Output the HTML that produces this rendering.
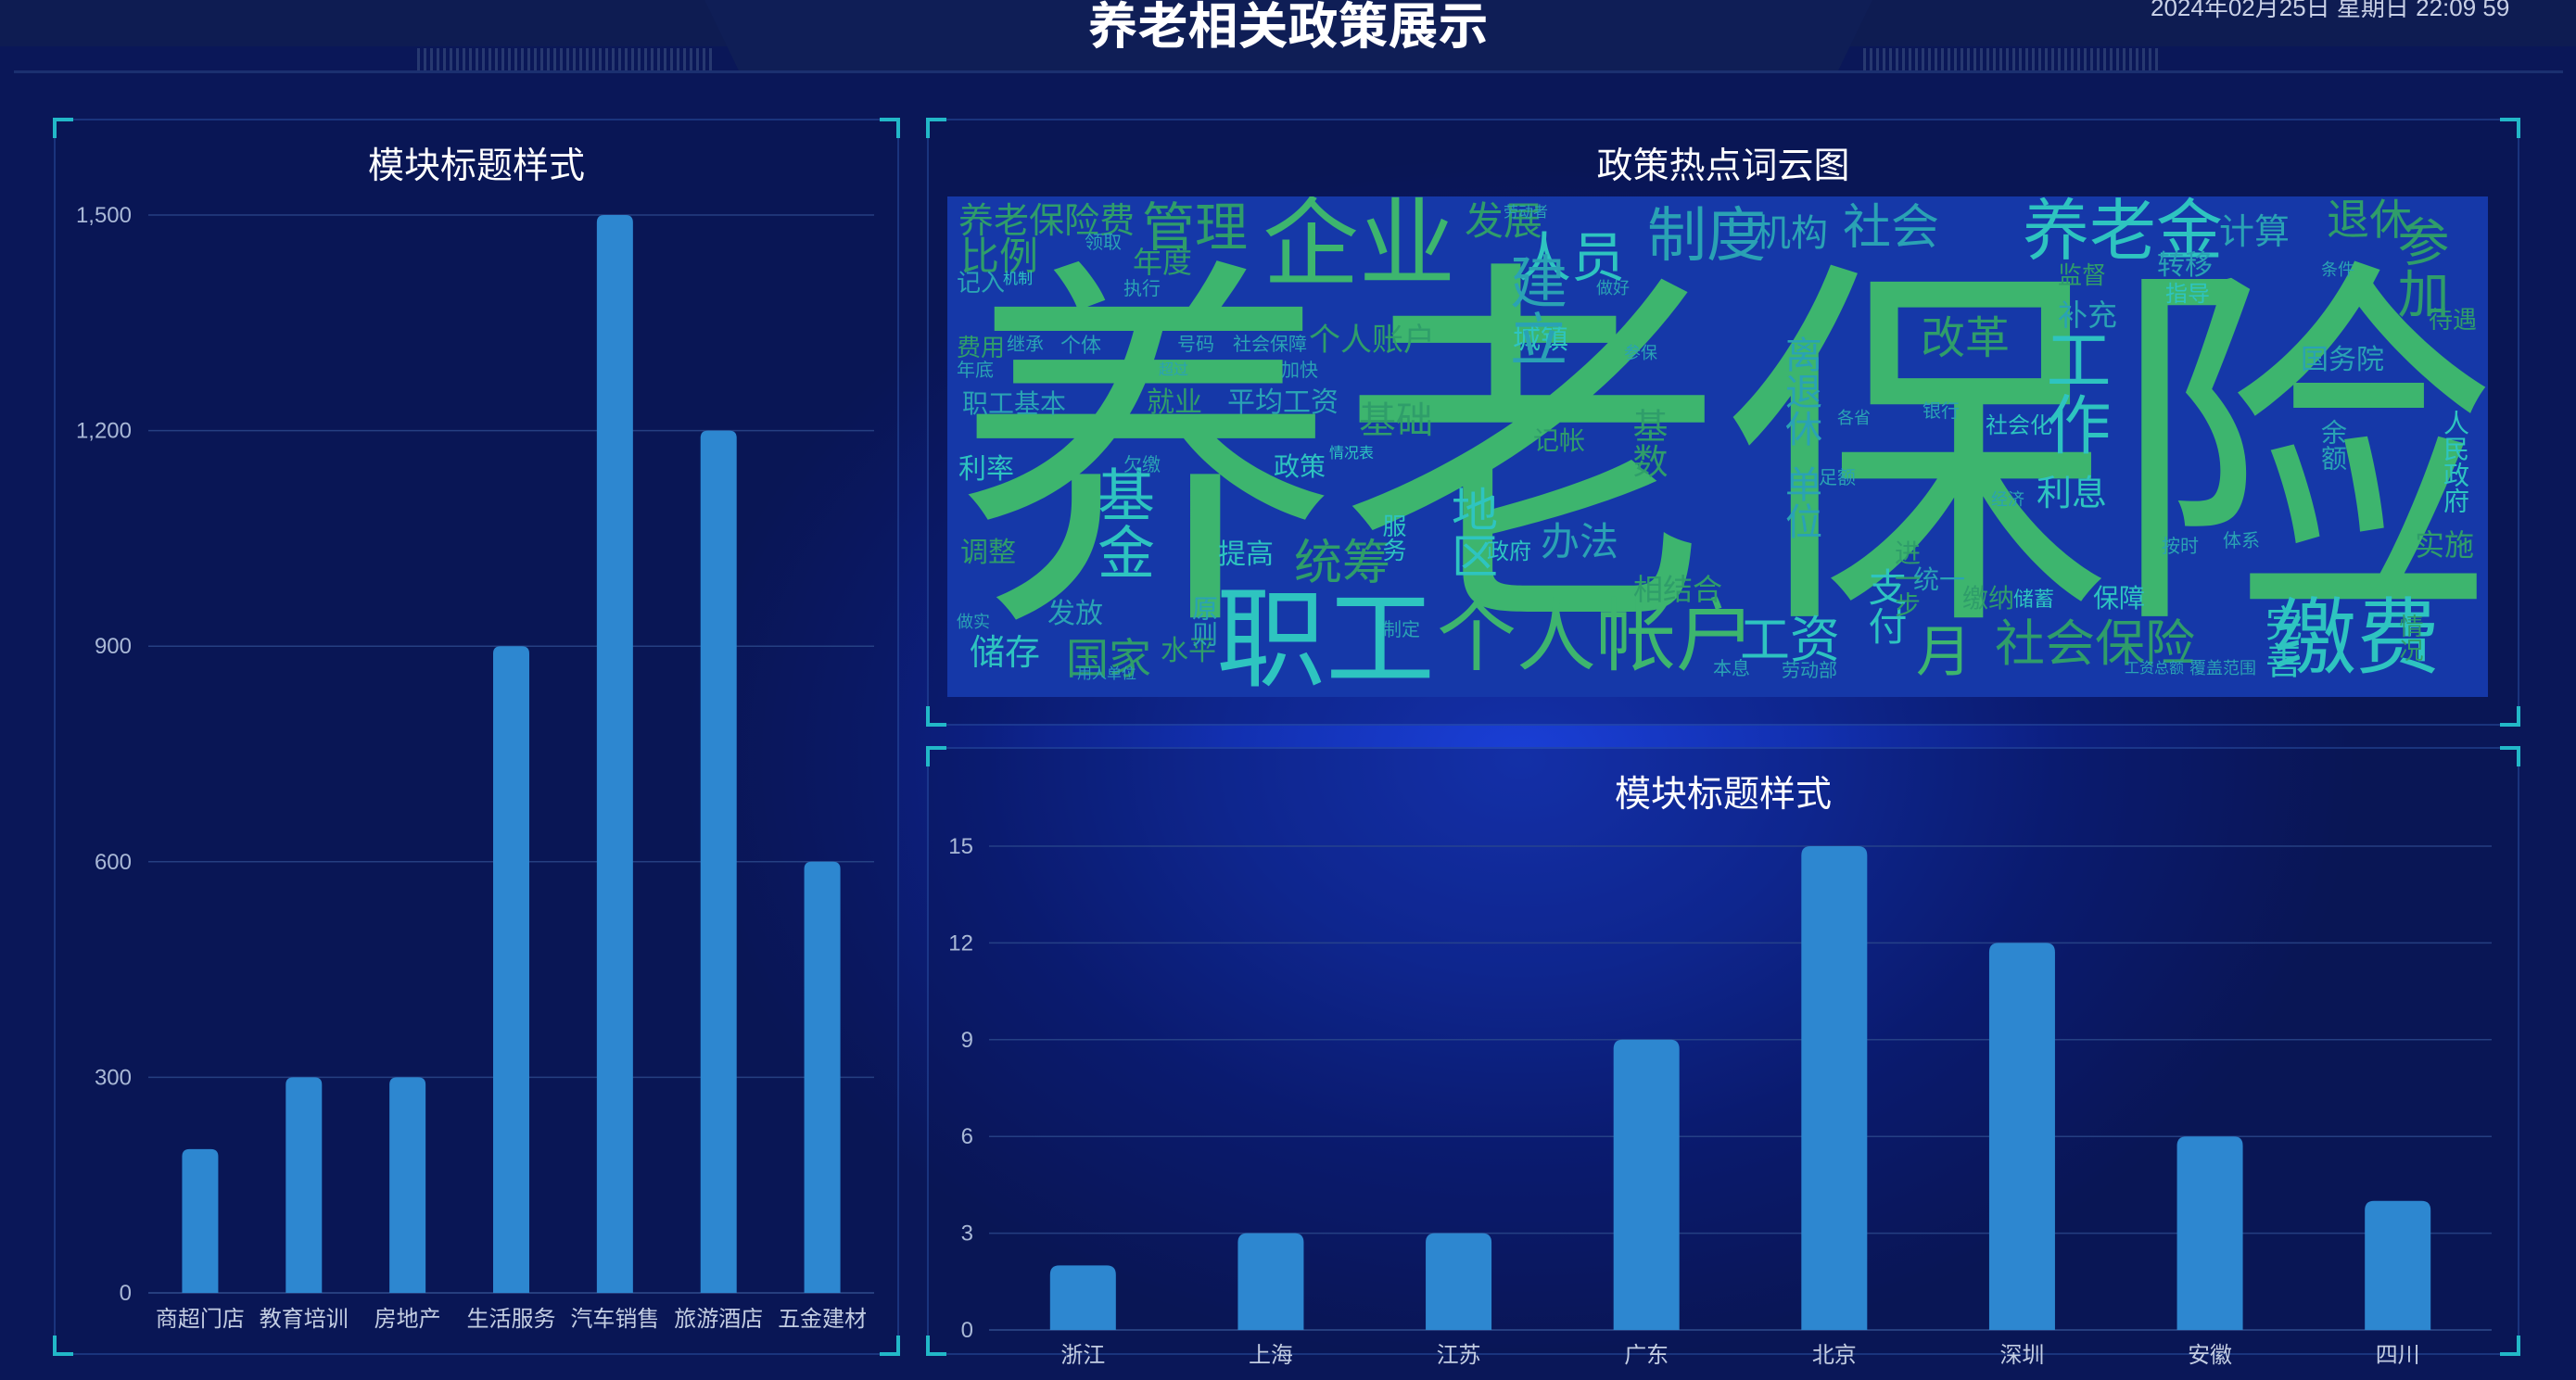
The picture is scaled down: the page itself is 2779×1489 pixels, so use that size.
<!DOCTYPE html>
<html lang="zh">
<head>
<meta charset="utf-8">
<style>
  html,body{margin:0;padding:0;}
  body{width:2779px;height:1489px;overflow:hidden;position:relative;
    font-family:"Liberation Sans","Noto Sans CJK SC",sans-serif;
    background:radial-gradient(ellipse 900px 650px at 1640px 820px,#1a3fd6 0%,#1230b0 35%,#0c1f80 65%,#0a1758 100%);}
  .abs{position:absolute;}
  .panel{position:absolute;border:2px solid rgba(60,110,200,0.35);background:rgba(8,20,80,0.35);box-sizing:border-box;}
  .corner{position:absolute;width:18px;height:18px;border-color:#22b8c8;border-style:solid;border-width:0;}
  .tl{left:-3px;top:-3px;border-left-width:4px;border-top-width:4px;}
  .tr{right:-3px;top:-3px;border-right-width:4px;border-top-width:4px;}
  .bl{left:-3px;bottom:-3px;border-left-width:4px;border-bottom-width:4px;}
  .br{right:-3px;bottom:-3px;border-right-width:4px;border-bottom-width:4px;}
  .ptitle{position:absolute;left:0;right:0;text-align:center;color:#fff;font-size:39px;}
  #cloud{position:absolute;left:1022px;top:212px;width:1662px;height:540px;background:#1538a8;overflow:hidden;}
  #cloud span{position:absolute;white-space:nowrap;line-height:1;}
  .g{color:#3db56e}.t{color:#2ec4c0}.dg{color:#2f9d6a}.dt{color:#2aa2b4}
  .v{writing-mode:vertical-rl;}
</style>
</head>
<body>
<div class="abs" style="left:0;top:0;width:2779px;height:50px;background:#0e1c52;"></div>
<div class="abs" style="left:760px;top:0;width:1260px;height:78px;background:#0f1e56;clip-path:polygon(0 0,100% 0,97% 100%,3% 100%);"></div>
<div class="abs" style="left:450px;top:52px;width:320px;height:26px;background:repeating-linear-gradient(90deg,#3a4f80 0 3px,transparent 3px 7px);opacity:.6;"></div>
<div class="abs" style="left:2010px;top:52px;width:320px;height:26px;background:repeating-linear-gradient(90deg,#3a4f80 0 3px,transparent 3px 7px);opacity:.6;"></div>
<div class="abs" style="left:15px;top:76px;width:2750px;height:3px;background:#1b3070;"></div>
<div class="abs" style="left:0;width:2779px;top:0;text-align:center;color:#fff;font-size:54px;font-weight:bold;line-height:58px;">养老相关政策展示</div>
<div class="abs" style="left:2320px;top:-12px;color:#c8d0e6;font-size:26px;">2024年02月25日 星期日 22:09 59</div>

<div class="panel" style="left:58px;top:128px;width:912px;height:1334px;">
  <div class="corner tl"></div><div class="corner tr"></div><div class="corner bl"></div><div class="corner br"></div>
  <div class="ptitle" style="top:18px;">模块标题样式</div>
</div>
<div class="panel" style="left:1000px;top:128px;width:1718px;height:655px;">
  <div class="corner tl"></div><div class="corner tr"></div><div class="corner bl"></div><div class="corner br"></div>
  <div class="ptitle" style="top:18px;">政策热点词云图</div>
</div>
<div class="panel" style="left:1000px;top:806px;width:1718px;height:656px;">
  <div class="corner tl"></div><div class="corner tr"></div><div class="corner bl"></div><div class="corner br"></div>
  <div class="ptitle" style="top:18px;">模块标题样式</div>
</div>

<div id="cloud">
  <span class="g" style="left:8px;top:70px;font-size:415px;">养老保险</span>
  <span class="t" style="left:290px;top:420px;font-size:118px;">职工</span>
  <span class="g" style="left:528px;top:432px;font-size:86px;">个人帐户</span>
  <span class="t" style="left:1430px;top:432px;font-size:90px;">缴费</span>
  <span class="g" style="left:340px;top:0px;font-size:104px;">企业</span>
  <span class="t" style="left:1160px;top:2px;font-size:72px;">养老金</span>
  <span class="dt" style="left:755px;top:10px;font-size:64px;">制度</span>
  <span class="t" style="left:615px;top:38px;font-size:58px;">人员</span>
  <span class="dg" style="left:210px;top:6px;font-size:57px;">管理</span>
  <span class="dg" style="left:12px;top:8px;font-size:38px;">养老保险费</span>
  <span class="dg" style="left:1130px;top:456px;font-size:54px;">社会保险</span>
  <span class="t" style="left:855px;top:452px;font-size:54px;">工资</span>
  <span class="dg" style="left:1488px;top:2px;font-size:46px;">退休</span>
  <span class="dt" style="left:870px;top:20px;font-size:40px;">机构</span>
  <span class="dt" style="left:966px;top:8px;font-size:52px;">社会</span>
  <span class="dg" style="left:558px;top:6px;font-size:42px;">发展</span>
  <span class="dt" style="left:1372px;top:20px;font-size:38px;">计算</span>
  <span class="dg" style="left:374px;top:370px;font-size:52px;">统筹</span>
  <span class="dg" style="left:128px;top:476px;font-size:46px;">国家</span>
  <span class="t" style="left:24px;top:474px;font-size:38px;">储存</span>
  <span class="dg" style="left:1050px;top:130px;font-size:48px;">改革</span>
  <span class="dt" style="left:640px;top:352px;font-size:42px;">办法</span>
  <span class="t" style="left:1175px;top:302px;font-size:38px;">利息</span>
  <span class="g" style="left:1045px;top:462px;font-size:60px;">月</span>
  <span class="dg" style="left:14px;top:44px;font-size:42px;">比例</span>
  <span class="dg" style="left:200px;top:55px;font-size:32px;">年度</span>
  <span class="dg" style="left:390px;top:138px;font-size:34px;">个人账户</span>
  <span class="t" style="left:610px;top:140px;font-size:30px;">城镇</span>
  <span class="dg" style="left:215px;top:208px;font-size:30px;">就业</span>
  <span class="dt" style="left:302px;top:208px;font-size:30px;">平均工资</span>
  <span class="dt" style="left:16px;top:210px;font-size:28px;">职工基本</span>
  <span class="dg" style="left:444px;top:222px;font-size:40px;">基础</span>
  <span class="dg" style="left:10px;top:150px;font-size:26px;">费用</span>
  <span class="dt" style="left:64px;top:150px;font-size:20px;">继承</span>
  <span class="dt" style="left:122px;top:150px;font-size:22px;">个体</span>
  <span class="t" style="left:12px;top:280px;font-size:30px;">利率</span>
  <span class="t" style="left:352px;top:278px;font-size:28px;">政策</span>
  <span class="dg" style="left:14px;top:370px;font-size:30px;">调整</span>
  <span class="t" style="left:292px;top:372px;font-size:30px;">提高</span>
  <span class="dt" style="left:108px;top:436px;font-size:30px;">发放</span>
  <span class="dg" style="left:230px;top:476px;font-size:30px;">水平</span>
  <span class="dg" style="left:740px;top:408px;font-size:32px;">相结合</span>
  <span class="dt" style="left:1042px;top:400px;font-size:28px;">统一</span>
  <span class="dg" style="left:1095px;top:420px;font-size:28px;">缴纳</span>
  <span class="t" style="left:1150px;top:424px;font-size:22px;">储蓄</span>
  <span class="t" style="left:1236px;top:420px;font-size:28px;">保障</span>
  <span class="dg" style="left:1583px;top:360px;font-size:32px;">实施</span>
  <span class="dt" style="left:1460px;top:162px;font-size:30px;">国务院</span>
  <span class="t v" style="left:1612px;top:230px;font-size:28px;">人民政府</span>
  <span class="dg" style="left:1598px;top:120px;font-size:26px;">待遇</span>
  <span class="dt" style="left:1305px;top:60px;font-size:30px;">转移</span>
  <span class="t" style="left:1314px;top:94px;font-size:24px;">指导</span>
  <span class="dt" style="left:1198px;top:112px;font-size:32px;">补充</span>
  <span class="dg" style="left:1198px;top:72px;font-size:26px;">监督</span>
  <span class="dg" style="left:632px;top:250px;font-size:28px;">记帐</span>
  <span class="t" style="left:1120px;top:236px;font-size:24px;">社会化</span>
  <span class="t v" style="left:540px;top:312px;font-size:50px;">地区</span>
  <span class="t v" style="left:155px;top:290px;font-size:62px;">基金</span>
  <span class="dt v" style="left:600px;top:60px;font-size:62px;">建立</span>
  <span class="t v" style="left:1180px;top:140px;font-size:70px;">工作</span>
  <span class="dt v" style="left:900px;top:150px;font-size:40px;">离退休</span>
  <span class="dt v" style="left:900px;top:290px;font-size:40px;">单位</span>
  <span class="t v" style="left:990px;top:400px;font-size:42px;">支付</span>
  <span class="dg v" style="left:1560px;top:20px;font-size:56px;">参加</span>
  <span class="t v" style="left:1418px;top:440px;font-size:40px;">完善</span>
  <span class="dg v" style="left:735px;top:228px;font-size:38px;">基数</span>
  <span class="dt v" style="left:262px;top:430px;font-size:28px;">原则</span>
  <span class="t v" style="left:468px;top:342px;font-size:26px;">服务</span>
  <span class="dg v" style="left:1020px;top:370px;font-size:28px;">进一步</span>
  <span class="dt v" style="left:1480px;top:240px;font-size:28px;">余额</span>
  <span class="dg v" style="left:1565px;top:450px;font-size:26px;">情况</span>
  <span class="dt" style="left:10px;top:80px;font-size:26px;">记入</span>
  <span class="dt" style="left:148px;top:40px;font-size:20px;">领取</span>
  <span class="dt" style="left:190px;top:90px;font-size:20px;">执行</span>
  <span class="t" style="left:60px;top:82px;font-size:16px;">机制</span>
  <span class="dt" style="left:248px;top:150px;font-size:20px;">号码</span>
  <span class="dt" style="left:308px;top:150px;font-size:20px;">社会保障</span>
  <span class="dt" style="left:360px;top:178px;font-size:20px;">加快</span>
  <span class="dt" style="left:10px;top:178px;font-size:20px;">年底</span>
  <span class="dt" style="left:190px;top:280px;font-size:20px;">欠缴</span>
  <span class="t" style="left:412px;top:270px;font-size:16px;">情况表</span>
  <span class="dt" style="left:700px;top:90px;font-size:18px;">做好</span>
  <span class="dt" style="left:600px;top:10px;font-size:16px;">劳动者</span>
  <span class="dt" style="left:730px;top:160px;font-size:18px;">参保</span>
  <span class="dt" style="left:960px;top:230px;font-size:18px;">各省</span>
  <span class="dt" style="left:1052px;top:222px;font-size:20px;">银行</span>
  <span class="t" style="left:582px;top:372px;font-size:24px;">政府</span>
  <span class="dt" style="left:10px;top:450px;font-size:18px;">做实</span>
  <span class="dt" style="left:826px;top:500px;font-size:20px;">本息</span>
  <span class="dt" style="left:900px;top:502px;font-size:20px;">劳动部</span>
  <span class="dt" style="left:1340px;top:500px;font-size:18px;">覆盖范围</span>
  <span class="dt" style="left:1270px;top:502px;font-size:16px;">工资总额</span>
  <span class="dt" style="left:140px;top:508px;font-size:16px;">用人单位</span>
  <span class="dt" style="left:940px;top:294px;font-size:20px;">足额</span>
  <span class="dt" style="left:1310px;top:368px;font-size:20px;">按时</span>
  <span class="dt" style="left:1376px;top:362px;font-size:20px;">体系</span>
  <span class="dt" style="left:1482px;top:70px;font-size:18px;">条件</span>
  <span class="dt" style="left:1126px;top:318px;font-size:18px;">经济</span>
  <span class="dt" style="left:470px;top:458px;font-size:20px;">制定</span>
  <span class="dt" style="left:228px;top:180px;font-size:16px;">超过</span>
</div>

<svg class="abs" style="left:0;top:0;" width="2779" height="1489">
  <g id="leftChart"></g>
  <g id="rightChart"></g>
</svg>

<script>
const leftCategories = ["商超门店","教育培训","房地产","生活服务","汽车销售","旅游酒店","五金建材"];
const leftValues = [200,300,300,900,1500,1200,600];
const leftTicks = [0,300,600,900,1200,1500];
const leftTickLabels = ["0","300","600","900","1,200","1,500"];

const rightCategories = ["浙江","上海","江苏","广东","北京","深圳","安徽","四川"];
const rightValues = [2,3,3,9,15,12,6,4];
const rightTicks = [0,3,6,9,12,15];
const rightTickLabels = ["0","3","6","9","12","15"];

const NS = "http://www.w3.org/2000/svg";
function mk(tag, attrs, parent){
  const e = document.createElementNS(NS, tag);
  for (const k in attrs) e.setAttribute(k, attrs[k]);
  parent.appendChild(e);
  return e;
}
function drawChart(g, cats, vals, ticks, tickLabels, cfg){
  const yScale = v => cfg.y0 - v / cfg.max * (cfg.y0 - cfg.yTop);
  const band = (cfg.x1 - cfg.x0) / cats.length;
  const xCenter = i => cfg.x0 + band * (i + 0.5);
  ticks.forEach((t, i) => {
    const y = yScale(t);
    const line = mk("line", {x1:cfg.x0, x2:cfg.x1, y1:y, y2:y, stroke: i===0 ? "#3a5a9a" : "#2c4a8c", "stroke-width":1.5, opacity:0.8}, g);
    
    
    const lbl = mk("text", {x:cfg.labelX, y:y+8, "text-anchor":"end", fill:"#a9b8d6", "font-size":24, "font-family":"Liberation Sans, Noto Sans CJK SC, sans-serif"}, g);
    lbl.textContent = tickLabels[i];
    
    
  });
  cats.forEach((c, i) => {
    const cx = xCenter(i);
    const y = yScale(vals[i]);
    const bar = mk("path", {d: `M${cx-cfg.bw/2},${cfg.y0} L${cx-cfg.bw/2},${y+cfg.r} Q${cx-cfg.bw/2},${y} ${cx-cfg.bw/2+cfg.r},${y} L${cx+cfg.bw/2-cfg.r},${y} Q${cx+cfg.bw/2},${y} ${cx+cfg.bw/2},${y+cfg.r} L${cx+cfg.bw/2},${cfg.y0} Z`, fill:"#2d87d0"}, g);
    
    
    const lbl = mk("text", {x:cx, y:cfg.catY, "text-anchor":"middle", fill:"#c3cde2", "font-size":24, "font-family":"Liberation Sans, Noto Sans CJK SC, sans-serif"}, g);
    lbl.textContent = c;
    
    
  });
}
drawChart(document.getElementById("leftChart"), leftCategories, leftValues, leftTicks, leftTickLabels,
  {x0:160, x1:943, y0:1395, yTop:232, max:1500, labelX:142, bw:39, r:8, catY:1431});
drawChart(document.getElementById("rightChart"), rightCategories, rightValues, rightTicks, rightTickLabels,
  {x0:1067, x1:2688, y0:1435, yTop:913, max:15, labelX:1050, bw:71, r:10, catY:1470});
</script>
</body>
</html>
